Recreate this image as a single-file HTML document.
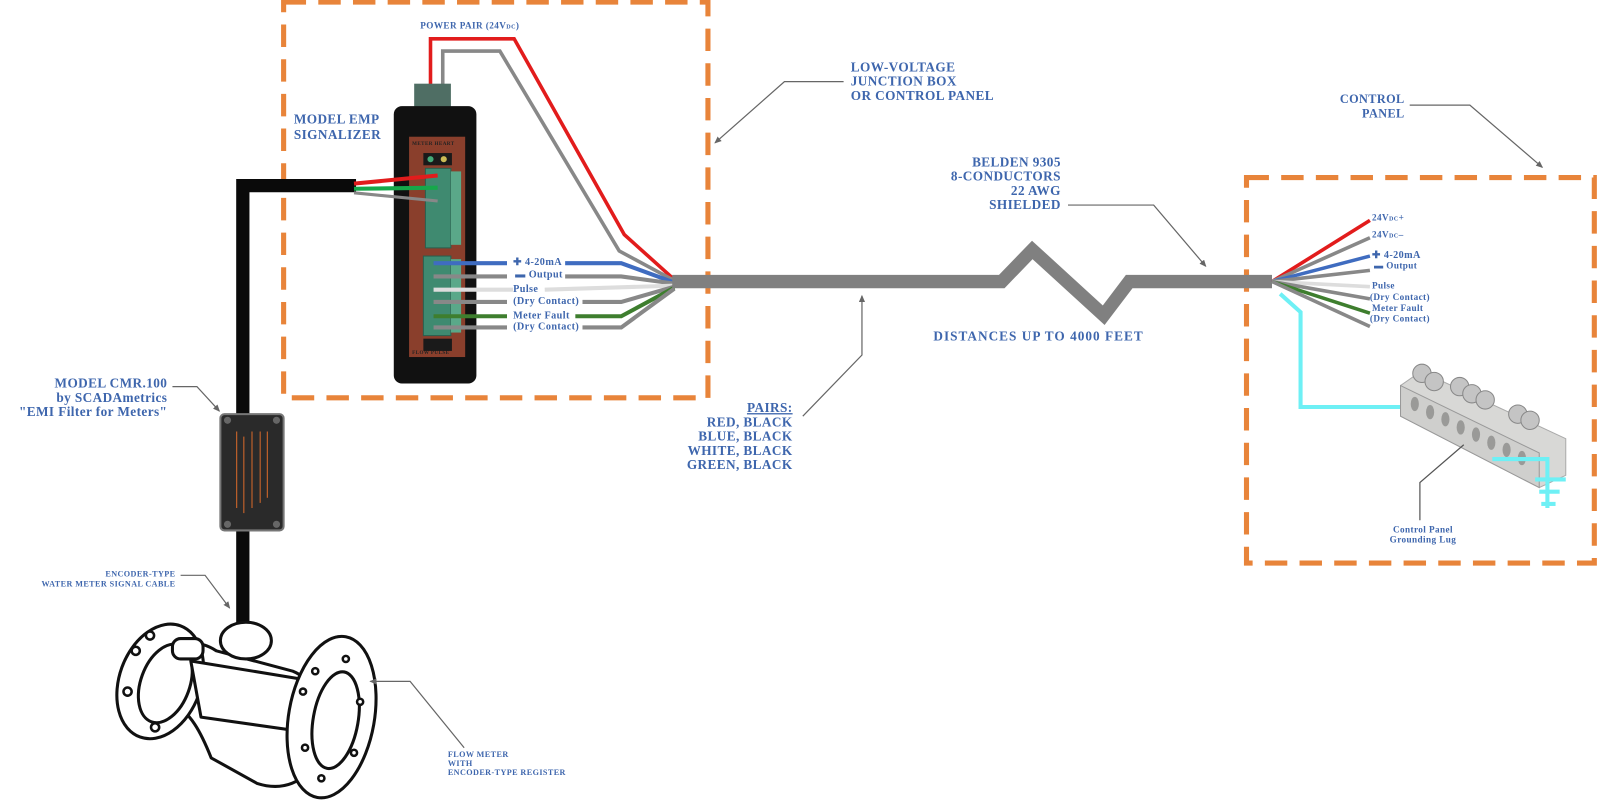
<!DOCTYPE html>
<html><head><meta charset="utf-8"><style>
html,body{margin:0;padding:0;background:#fff;}
svg{display:block;}
text{font-family:"Liberation Serif",serif;font-weight:bold;fill:#3e66ad;letter-spacing:0.4px;}
</style></head><body>
<svg width="1600" height="804" viewBox="0 0 1600 804" xmlns="http://www.w3.org/2000/svg">
<defs>
<marker id="ar" markerWidth="8" markerHeight="8" refX="6" refY="3" orient="auto" markerUnits="userSpaceOnUse"><path d="M0,0 L7,3 L0,6 z" fill="#666"/></marker>
</defs>
<g transform="translate(-3,-2) scale(1.02)">
<rect x="281" y="4" width="416" height="388" fill="none" stroke="#e8843a" stroke-width="5" stroke-dasharray="22,12"/>
<rect x="1225" y="176" width="341" height="378" fill="none" stroke="#e8843a" stroke-width="5" stroke-dasharray="22,12"/>

<polyline points="425,90 425,40 507,40 615,232 664,276" fill="none" stroke="#e21c1c" stroke-width="3.5"/>
<polyline points="437,90 437,52 493,52 610,248 664,277" fill="none" stroke="#888" stroke-width="3.5"/>

<polyline points="241,415 241,184 352,184" fill="none" stroke="#0a0a0a" stroke-width="13"/>
<line x1="241" y1="520" x2="241" y2="615" stroke="#0a0a0a" stroke-width="13"/>

<rect x="409" y="84" width="36" height="26" fill="#4f6e64"/>
<rect x="389" y="106" width="81" height="272" rx="8" fill="#111"/>
<rect x="404" y="136" width="55" height="216" fill="#8a3f2c"/>
<text x="407" y="144" font-size="5" style="fill:#222">METER HEART</text>
<text x="407" y="349" font-size="5" style="fill:#222">FLOW PULSE</text>
<rect x="418" y="152" width="28" height="12" fill="#1a1a1a"/>
<circle cx="425" cy="158" r="3" fill="#4a7"/><circle cx="438" cy="158" r="3" fill="#cb5"/>
<rect x="420" y="167" width="25" height="78" fill="#3f8a70" stroke="#2b5e4d"/>
<rect x="445" y="170" width="10" height="72" fill="#5aa889"/>
<rect x="418" y="253" width="27" height="78" fill="#3f8a70" stroke="#2b5e4d"/>
<rect x="445" y="256" width="10" height="72" fill="#5aa889"/>
<rect x="418" y="334" width="28" height="12" fill="#1a1a1a"/>

<line x1="350" y1="182" x2="432" y2="174" stroke="#e21c1c" stroke-width="4"/>
<line x1="350" y1="187" x2="432" y2="186" stroke="#16a84a" stroke-width="4"/>
<line x1="350" y1="191" x2="432" y2="199" stroke="#888" stroke-width="3"/>

<g fill="none" stroke-width="4">
<polyline points="428,260 500,260" stroke="#3f6cc0"/><polyline points="557,260 612,260 664,279" stroke="#3f6cc0"/>
<polyline points="428,273 500,273" stroke="#888"/><polyline points="557,273 612,273 664,280" stroke="#888"/>
<polyline points="428,286 506,286" stroke="#ddd"/><polyline points="537,286 664,282" stroke="#ddd"/>
<polyline points="428,298 500,298" stroke="#888"/><polyline points="574,298 612,298 664,283" stroke="#888"/>
<polyline points="428,312 500,312" stroke="#3e7e2e"/><polyline points="567,312 612,312 664,284" stroke="#3e7e2e"/>
<polyline points="428,323 500,323" stroke="#888"/><polyline points="574,323 612,323 664,285" stroke="#888"/>
</g>
<text x="506" y="262" font-size="10">✚ 4-20mA</text>
<text x="508" y="274" font-size="10">▬ Output</text>
<text x="506" y="288" font-size="10">Pulse</text>
<text x="506" y="300" font-size="10">(Dry Contact)</text>
<text x="506" y="314" font-size="10">Meter Fault</text>
<text x="506" y="325" font-size="10">(Dry Contact)</text>

<polyline points="662,278 985,278 1015,247 1085,311 1110,278 1250,278" fill="none" stroke="#808080" stroke-width="13" stroke-linejoin="miter"/>

<g fill="none" stroke-width="3.5">
<line x1="1250" y1="278" x2="1346" y2="218" stroke="#e21c1c"/>
<line x1="1250" y1="278" x2="1346" y2="235" stroke="#888"/>
<line x1="1250" y1="278" x2="1346" y2="253" stroke="#3f6cc0"/>
<line x1="1250" y1="278" x2="1346" y2="267" stroke="#888"/>
<line x1="1250" y1="278" x2="1346" y2="283" stroke="#ddd"/>
<line x1="1250" y1="278" x2="1346" y2="295" stroke="#888"/>
<line x1="1250" y1="278" x2="1346" y2="309" stroke="#3e7e2e"/>
<line x1="1250" y1="278" x2="1346" y2="322" stroke="#888"/>
<polyline points="1258,290 1278,308 1278,401 1410,401" stroke="#6ef0f5" stroke-width="4"/>
</g>
<text x="1348" y="218" font-size="9">24V<tspan font-size="6">DC</tspan>+</text>
<text x="1348" y="235" font-size="9">24V<tspan font-size="6">DC</tspan>–</text>
<text x="1348" y="255" font-size="10">✚ 4-20mA</text>
<text x="1350" y="265" font-size="9">▬ Output</text>
<text x="1348" y="285" font-size="9">Pulse</text>
<text x="1346" y="296" font-size="9">(Dry Contact)</text>
<text x="1348" y="307" font-size="9">Meter Fault</text>
<text x="1346" y="317" font-size="9">(Dry Contact)</text>

<g>
<polygon points="1376,380 1396,366 1538,432 1538,468 1512,480 1376,410" fill="#d8d8d6" stroke="#aaa"/>
<polygon points="1376,380 1512,446 1512,480 1376,410" fill="#cfcfcd" stroke="#999"/>
<g fill="#9a9a98">
<ellipse cx="1390" cy="398" rx="4" ry="7"/><ellipse cx="1405" cy="406" rx="4" ry="7"/><ellipse cx="1420" cy="413" rx="4" ry="7"/><ellipse cx="1435" cy="421" rx="4" ry="7"/><ellipse cx="1450" cy="428" rx="4" ry="7"/><ellipse cx="1465" cy="436" rx="4" ry="7"/><ellipse cx="1480" cy="443" rx="4" ry="7"/><ellipse cx="1495" cy="451" rx="4" ry="7"/>
</g>
<g fill="#c4c4c4" stroke="#888">
<circle cx="1397" cy="368" r="9"/><circle cx="1409" cy="376" r="9"/><circle cx="1434" cy="381" r="9"/><circle cx="1446" cy="388" r="9"/><circle cx="1459" cy="394" r="9"/><circle cx="1491" cy="408" r="9"/><circle cx="1503" cy="414" r="9"/>
</g>
</g>
<polyline points="1466,452 1520,452 1520,500" fill="none" stroke="#6ef0f5" stroke-width="4"/>
<g stroke="#6ef0f5" stroke-width="4"><line x1="1508" y1="472" x2="1538" y2="472"/><line x1="1512" y1="484" x2="1532" y2="484"/><line x1="1514" y1="496" x2="1528" y2="496"/></g>
<polyline points="1438,438 1395,475 1395,512" fill="none" stroke="#555" stroke-width="1.2"/>
<text x="1398" y="524" font-size="9" text-anchor="middle">Control Panel</text>
<text x="1398" y="534" font-size="9" text-anchor="middle">Grounding Lug</text>

<rect x="219" y="408" width="62" height="114" rx="4" fill="#2a2a2a" stroke="#777" stroke-width="2"/>
<circle cx="226" cy="414" r="3.5" fill="#666"/><circle cx="274" cy="414" r="3.5" fill="#666"/><circle cx="226" cy="516" r="3.5" fill="#666"/><circle cx="274" cy="516" r="3.5" fill="#666"/>
<g stroke="#d96a2a" stroke-width="1"><line x1="235" y1="425" x2="235" y2="500"/><line x1="242" y1="430" x2="242" y2="505"/><line x1="250" y1="425" x2="250" y2="500"/><line x1="258" y1="425" x2="258" y2="495"/><line x1="265" y1="425" x2="265" y2="490"/></g>

<g fill="#fff" stroke="#111" stroke-width="3" stroke-linejoin="round">
<path d="M150,640 C170,625 200,630 215,640 L290,660 C310,668 318,690 318,720 L318,745 C300,770 280,778 255,770 L210,745 C200,720 190,700 170,690 Z"/>
<ellipse cx="160" cy="670" rx="40" ry="58" transform="rotate(20 160 670)"/>
<ellipse cx="165" cy="672" rx="24" ry="40" transform="rotate(20 165 672)"/>
<rect x="172" y="628" width="30" height="20" rx="8"/>
<path d="M190,650 L300,668 L305,720 L200,705 Z"/>
<ellipse cx="244" cy="630" rx="25" ry="18"/>
<ellipse cx="328" cy="705" rx="42" ry="80" transform="rotate(10 328 705)"/>
<ellipse cx="332" cy="708" rx="22" ry="48" transform="rotate(10 332 708)"/>
</g>
<g fill="#fff" stroke="#111" stroke-width="2.5">
<circle cx="136" cy="640" r="4"/><circle cx="128" cy="680" r="4"/><circle cx="155" cy="715" r="4"/><circle cx="150" cy="625" r="4"/>
<circle cx="300" cy="680" r="3"/><circle cx="312" cy="660" r="3"/><circle cx="342" cy="648" r="3"/><circle cx="356" cy="690" r="3"/><circle cx="350" cy="740" r="3"/><circle cx="318" cy="765" r="3"/><circle cx="302" cy="735" r="3"/>
</g>

<text x="415" y="30" font-size="9">POWER PAIR (24V<tspan font-size="6">DC</tspan>)</text>
<text x="291" y="123" font-size="13">MODEL EMP</text>
<text x="291" y="138" font-size="13">SIGNALIZER</text>

<text x="837" y="72" font-size="13">LOW-VOLTAGE</text>
<text x="837" y="86" font-size="13">JUNCTION BOX</text>
<text x="837" y="100" font-size="13">OR CONTROL PANEL</text>
<polyline points="830,82 772,82 704,142" fill="none" stroke="#666" stroke-width="1.2" marker-end="url(#ar)"/>

<text x="1380" y="103" font-size="12" text-anchor="end">CONTROL</text>
<text x="1380" y="117" font-size="12" text-anchor="end">PANEL</text>
<polyline points="1385,105 1444,105 1515,166" fill="none" stroke="#666" stroke-width="1.2" marker-end="url(#ar)"/>

<text x="1043" y="165" font-size="13" text-anchor="end">BELDEN 9305</text>
<text x="1043" y="179" font-size="13" text-anchor="end">8-CONDUCTORS</text>
<text x="1043" y="193" font-size="13" text-anchor="end">22 AWG</text>
<text x="1043" y="207" font-size="13" text-anchor="end">SHIELDED</text>
<polyline points="1050,203 1134,203 1185,263" fill="none" stroke="#666" stroke-width="1.2" marker-end="url(#ar)"/>

<text x="918" y="336" font-size="13" style="letter-spacing:1px">DISTANCES UP TO 4000 FEET</text>

<text x="780" y="406" font-size="13" text-anchor="end" text-decoration="underline">PAIRS:</text>
<text x="780" y="420" font-size="13" text-anchor="end">RED, BLACK</text>
<text x="780" y="434" font-size="13" text-anchor="end">BLUE, BLACK</text>
<text x="780" y="448" font-size="13" text-anchor="end">WHITE, BLACK</text>
<text x="780" y="462" font-size="13" text-anchor="end">GREEN, BLACK</text>
<polyline points="790,410 848,350 848,292" fill="none" stroke="#666" stroke-width="1.2" marker-end="url(#ar)"/>

<text x="167" y="382" font-size="13" text-anchor="end">MODEL CMR.100</text>
<text x="167" y="396" font-size="13" text-anchor="end">by SCADAmetrics</text>
<text x="167" y="410" font-size="13" text-anchor="end">"EMI Filter for Meters"</text>
<polyline points="172,381 196,381 218,405" fill="none" stroke="#666" stroke-width="1.2" marker-end="url(#ar)"/>

<text x="175" y="567" font-size="8" text-anchor="end">ENCODER-TYPE</text>
<text x="175" y="577" font-size="8" text-anchor="end">WATER METER SIGNAL CABLE</text>
<polyline points="180,566 204,566 228,598" fill="none" stroke="#666" stroke-width="1.2" marker-end="url(#ar)"/>

<text x="442" y="744" font-size="8">FLOW METER</text>
<text x="442" y="753" font-size="8">WITH</text>
<text x="442" y="762" font-size="8">ENCODER-TYPE REGISTER</text>
<polyline points="458,735 405,670 366,670" fill="none" stroke="#666" stroke-width="1.2" marker-end="url(#ar)"/>
</g>
</svg>
</body></html>
